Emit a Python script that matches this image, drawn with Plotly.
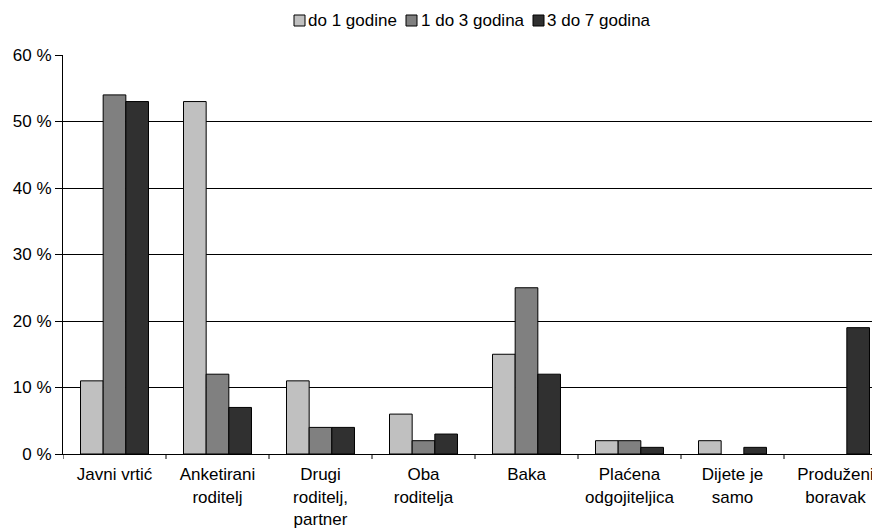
import plotly.graph_objects as go

categories = ["Javni vrtić", "Anketirani<br>roditelj", "Drugi<br>roditelj,<br>partner", "Oba<br>roditelja",
              "Baka", "Plaćena<br>odgojiteljica", "Dijete je<br>samo", "Produženi<br>boravak"]
series_names = ["do 1 godine", "1 do 3 godina", "3 do 7 godina"]
do1 = [11, 53, 11, 6, 15, 2, 2, 0]
od1do3 = [54, 12, 4, 2, 25, 2, 0, 0]
od3do7 = [53, 7, 4, 3, 12, 1, 1, 19]
colors = ["#C0C0C0", "#808080", "#303030"]
y_ticks = [0, 10, 20, 30, 40, 50, 60]

FONT = "Liberation Sans, Arial, sans-serif"
FS = 17
OFF = 8  # page body margin
W, H = 880 - OFF, 528 - OFF
L, T, B = 63 - OFF, 55 - OFF, 528 - 454
PW = W - L
PH = H - T - B


def px(sx):
    return (sx - OFF - L) / PW


def py(sy):
    return (454 - sy) / PH


fig = go.Figure()
for name, vals, col in zip(series_names, [do1, od1do3, od3do7], colors):
    fig.add_trace(go.Bar(
        x=list(range(len(categories))), y=vals, name=name,
        marker=dict(color=col, line=dict(color="#000000",
                                         width=[1 if v > 0 else 0 for v in vals])),
        showlegend=False,
    ))

# manual legend (compact, like the reference)
legend_sq = [294, 406, 533]
legend_tx = [306, 419, 545]
shapes = []
annotations = []
for name, col, sq, tx in zip(series_names, colors, legend_sq, legend_tx):
    shapes.append(dict(type="rect", xref="paper", yref="paper",
                       x0=px(sq), x1=px(sq + 11), y0=py(26), y1=py(15),
                       fillcolor=col, line=dict(color="#000000", width=1)))
    annotations.append(dict(text=name, xref="paper", yref="paper", x=px(tx), y=py(20.5),
                            xanchor="left", yanchor="middle", showarrow=False,
                            font=dict(family=FONT, size=FS, color="#000000")))

fig.update_layout(
    width=W, height=H,
    margin=dict(l=L, r=0, t=T, b=B, autoexpand=False),
    plot_bgcolor="white", paper_bgcolor="white",
    barmode="group", bargap=0.34, bargroupgap=0,
    font=dict(family=FONT, size=FS, color="#000000"),
    showlegend=False,
    shapes=shapes, annotations=annotations,
)
fig.update_xaxes(
    type="linear",
    tickmode="array", tickvals=list(range(len(categories))), ticktext=categories,
    range=[-0.5, -0.5 + PW / 103], showgrid=False,
    showline=True, linecolor="#000000", linewidth=1,
    ticks="", tickfont=dict(size=FS), automargin=False, ticklabelstandoff=5,
)
# tick marks at category boundaries
for k in range(len(categories)):
    fig.add_shape(type="line", xref="x", yref="paper", x0=k - 0.5, x1=k - 0.5,
                  y0=0, y1=-5 / PH, line=dict(color="#000000", width=1))
fig.update_yaxes(
    range=[0, 60], tickmode="array", tickvals=y_ticks,
    ticktext=[f"{v} %" for v in y_ticks],
    showgrid=True, gridcolor="#000000", gridwidth=1,
    showline=True, linecolor="#000000", linewidth=1,
    ticks="outside", ticklen=7, tickcolor="#000000",
    tickfont=dict(size=FS), zeroline=False, automargin=False,
)
fig.write_html("out.html")
